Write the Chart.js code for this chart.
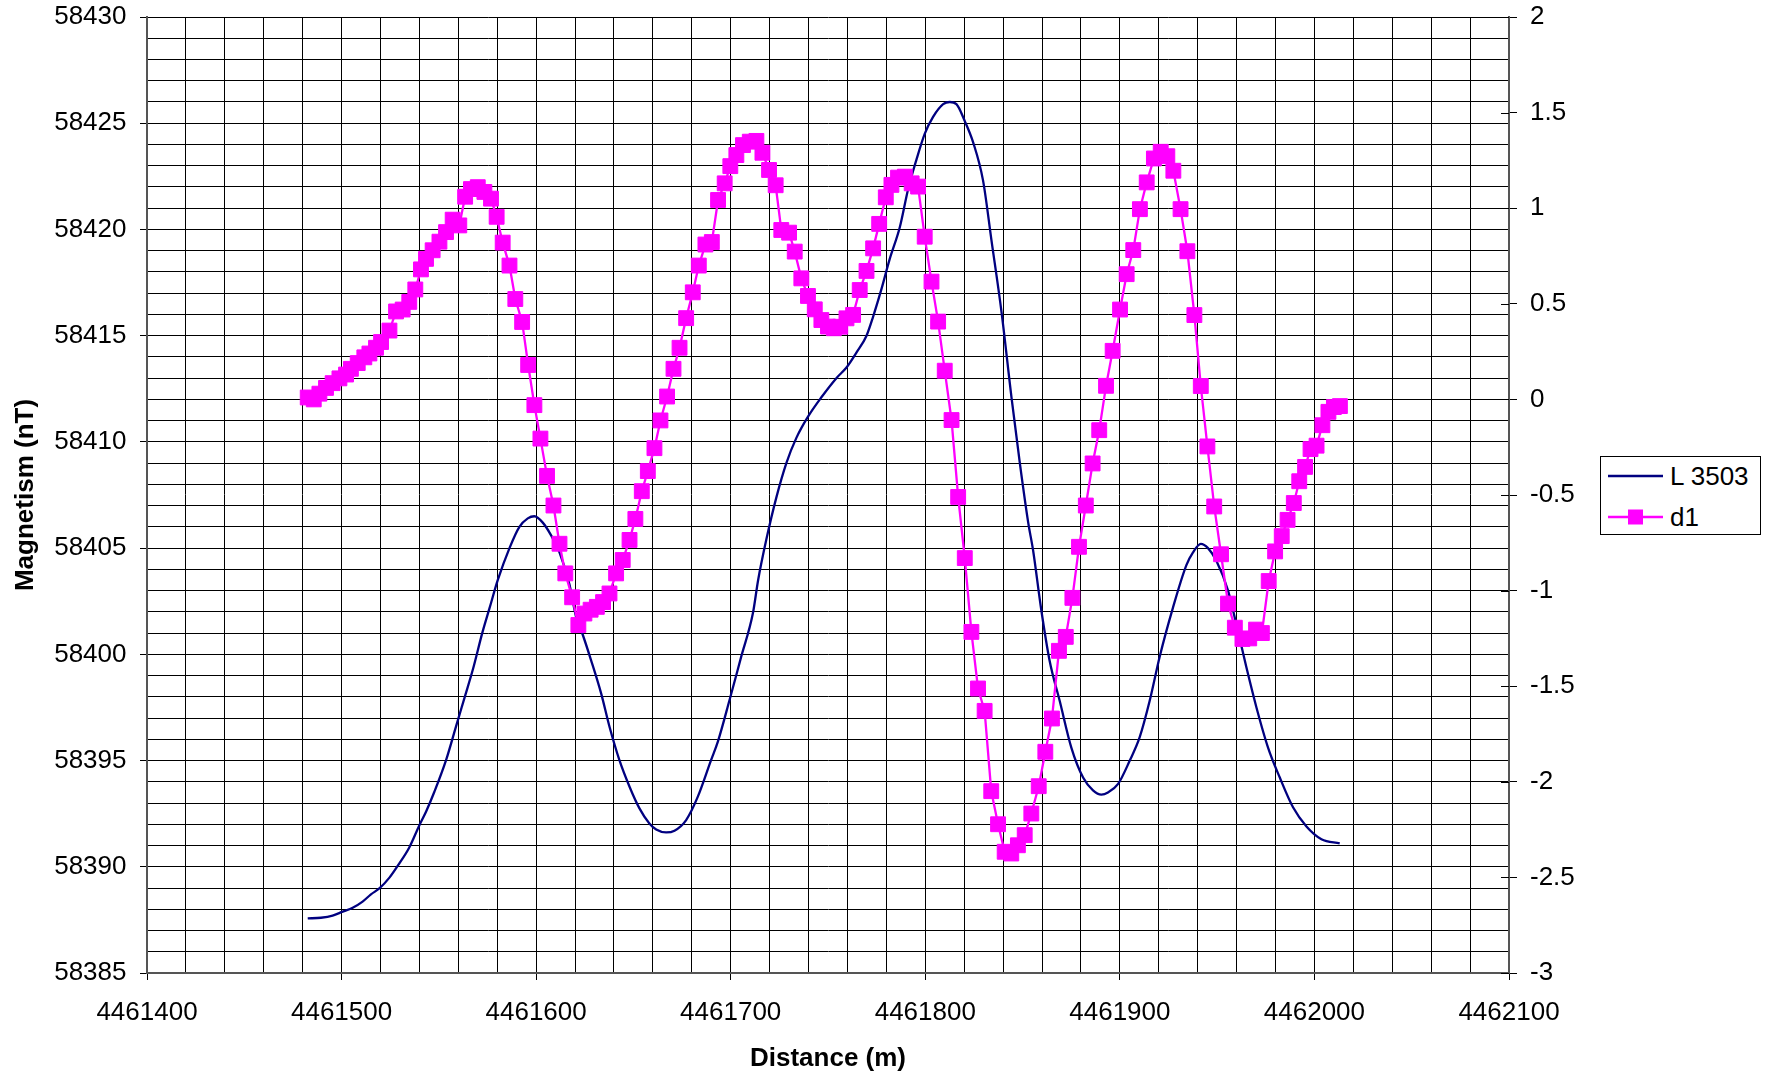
<!DOCTYPE html>
<html>
<head>
<meta charset="utf-8">
<script src="https://cdn.jsdelivr.net/npm/chart.js@4.4.1/dist/chart.umd.min.js"></script>
<style>
html,body{margin:0;padding:0;background:#fff;}
#wrap{position:relative;width:1775px;height:1076px;overflow:hidden;}
#c{position:absolute;left:0;top:0;}
#legend{position:absolute;left:1600px;top:456px;}
</style>
</head>
<body>
<div id="wrap">
<canvas id="c" width="1775" height="1076"></canvas>
<svg id="legend" width="162" height="80" xmlns="http://www.w3.org/2000/svg" font-family="'Liberation Sans', Arial, sans-serif" font-size="26">
  <rect x="0.5" y="0.5" width="160" height="78" fill="#fff" stroke="#000" stroke-width="1"/>
  <line x1="8" y1="20" x2="63" y2="20" stroke="#000080" stroke-width="2.3"/>
  <text x="70" y="29" fill="#000">L 3503</text>
  <line x1="8" y1="61" x2="63" y2="61" stroke="#FF00FF" stroke-width="2.3"/>
  <rect x="28" y="53.5" width="15" height="15" fill="#FF00FF"/>
  <text x="70" y="70" fill="#000">d1</text>
</svg>
</div>
<script>
// ---- data ----
const lineDistance = [4461482.6, 4461489.4, 4461495.4, 4461500.6, 4461505.7, 4461510.8, 4461515.1, 4461519.4, 4461524.6, 4461529.7,
  4461534.8, 4461540.0, 4461543.4, 4461547.7, 4461553.7, 4461558.8, 4461563.1, 4461567.4, 4461572.5, 4461576.0,
  4461580.3, 4461586.3, 4461591.4, 4461595.7, 4461599.1, 4461603.4, 4461607.7, 4461612.0, 4461617.1, 4461620.5,
  4461624.0, 4461628.2, 4461633.4, 4461637.7, 4461642.8, 4461648.0, 4461653.1, 4461658.2, 4461661.7, 4461666.8,
  4461671.1, 4461677.1, 4461683.1, 4461689.9, 4461693.4, 4461699.4, 4461705.4, 4461711.4, 4461714.1, 4461718.3,
  4461723.5, 4461728.6, 4461733.8, 4461739.8, 4461746.6, 4461754.3, 4461759.5, 4461764.6, 4461769.8, 4461773.2,
  4461777.5, 4461781.7, 4461786.9, 4461791.2, 4461795.5, 4461799.7, 4461804.0, 4461809.2, 4461812.6, 4461816.0,
  4461820.3, 4461824.6, 4461829.7, 4461834.0, 4461839.2, 4461844.3, 4461848.6, 4461852.9, 4461855.4, 4461859.6,
  4461863.9, 4461869.1, 4461875.1, 4461881.1, 4461886.2, 4461890.5, 4461893.9, 4461899.1, 4461905.1, 4461910.2,
  4461915.3, 4461920.5, 4461927.3, 4461934.2, 4461937.6, 4461941.6, 4461945.3, 4461949.6, 4461955.6, 4461959.9,
  4461965.0, 4461970.2, 4461976.2, 4461982.2, 4461989.0, 4461995.9, 4462003.6, 4462013.0];
const lineMag = [58387.57, 58387.60, 58387.70, 58387.89, 58388.07, 58388.36, 58388.70, 58388.98, 58389.49, 58390.16,
  58390.91, 58391.96, 58392.59, 58393.53, 58395.02, 58396.60, 58397.93, 58399.26, 58401.07, 58402.16,
  58403.50, 58405.00, 58406.00, 58406.40, 58406.50, 58406.20, 58405.60, 58404.80, 58403.30, 58401.77,
  58400.91, 58399.73, 58398.16, 58396.59, 58395.02, 58393.77, 58392.75, 58392.04, 58391.76, 58391.62,
  58391.70, 58392.20, 58393.30, 58395.02, 58395.89, 58397.85, 58399.89, 58401.93, 58403.50, 58405.40,
  58407.40, 58409.00, 58410.20, 58411.20, 58412.10, 58413.00, 58413.50, 58414.20, 58415.00, 58415.90,
  58417.20, 58418.60, 58420.10, 58421.90, 58423.30, 58424.50, 58425.30, 58425.90, 58426.00, 58425.90,
  58425.10, 58424.10, 58422.30, 58419.50, 58416.10, 58412.10, 58409.00, 58406.20, 58404.90, 58402.10,
  58399.70, 58397.80, 58395.60, 58394.20, 58393.60, 58393.40, 58393.50, 58393.90, 58395.00, 58396.10,
  58397.80, 58399.90, 58402.20, 58404.20, 58404.80, 58405.20, 58405.00, 58404.40, 58403.00, 58401.40,
  58399.40, 58397.50, 58395.60, 58394.20, 58392.80, 58391.90, 58391.30, 58391.10];

const d1Distance = [4461482.6, 4461485.7, 4461488.6, 4461492.0, 4461495.4, 4461498.9, 4461502.3, 4461504.8, 4461508.3, 4461511.7,
  4461514.3, 4461517.7, 4461520.3, 4461524.6, 4461528.0, 4461531.4, 4461534.8, 4461537.9, 4461540.8, 4461543.4,
  4461546.8, 4461550.3, 4461553.7, 4461557.1, 4461560.5, 4461563.5, 4461566.5, 4461570.0, 4461573.4, 4461576.8,
  4461579.7, 4461582.8, 4461586.3, 4461589.3, 4461592.8, 4461595.9, 4461599.1, 4461602.2, 4461605.6, 4461608.9,
  4461612.0, 4461615.0, 4461618.5, 4461621.7, 4461624.8, 4461628.0, 4461631.2, 4461634.4, 4461637.7, 4461641.1,
  4461644.5, 4461648.0, 4461651.0, 4461654.3, 4461657.4, 4461660.8, 4461663.9, 4461667.3, 4461670.6, 4461673.7,
  4461677.1, 4461680.5, 4461683.6, 4461687.0, 4461690.3, 4461693.5, 4461696.9, 4461699.8, 4461702.9, 4461706.3,
  4461709.8, 4461713.2, 4461716.3, 4461719.7, 4461723.1, 4461726.0, 4461730.0, 4461732.9, 4461736.3, 4461739.7,
  4461743.2, 4461746.6, 4461750.0, 4461753.0, 4461756.3, 4461759.5, 4461762.9, 4461766.3, 4461769.8, 4461773.2,
  4461776.3, 4461779.7, 4461782.6, 4461786.0, 4461789.5, 4461793.0, 4461796.3, 4461799.7, 4461803.2, 4461806.6,
  4461810.0, 4461813.5, 4461816.9, 4461820.3, 4461823.7, 4461827.1, 4461830.5, 4461833.9, 4461837.4, 4461840.8,
  4461844.2, 4461847.6, 4461851.1, 4461854.5, 4461858.3, 4461861.7, 4461865.1, 4461868.7, 4461872.2, 4461875.6,
  4461879.0, 4461882.5, 4461886.0, 4461889.4, 4461892.9, 4461896.3, 4461900.1, 4461903.5, 4461906.9, 4461910.3,
  4461913.8, 4461917.5, 4461921.0, 4461924.4, 4461927.5, 4461931.2, 4461934.7, 4461938.3, 4461941.6, 4461945.0,
  4461948.5, 4461952.0, 4461955.6, 4461959.1, 4461963.0, 4461966.5, 4461970.0, 4461973.0, 4461976.5, 4461979.8,
  4461983.2, 4461986.2, 4461989.4, 4461992.2, 4461995.2, 4461998.0, 4462001.1, 4462004.1, 4462007.2, 4462010.0,
  4462013.1];
const d1Value = [0.01, 0.00, 0.03, 0.06, 0.085, 0.11, 0.13, 0.16, 0.19, 0.22,
  0.24, 0.27, 0.30, 0.36, 0.46, 0.47, 0.51, 0.575, 0.68, 0.735,
  0.78, 0.825, 0.875, 0.94, 0.91, 1.06, 1.10, 1.11, 1.085, 1.05,
  0.955, 0.82, 0.70, 0.525, 0.405, 0.18, -0.03, -0.205, -0.40, -0.555,
  -0.755, -0.91, -1.035, -1.18, -1.12, -1.10, -1.085, -1.06, -1.015, -0.91,
  -0.84, -0.735, -0.625, -0.48, -0.375, -0.255, -0.11, 0.015, 0.16, 0.27,
  0.425, 0.56, 0.70, 0.81, 0.823, 1.043, 1.13, 1.22, 1.278, 1.33,
  1.348, 1.352, 1.29, 1.20, 1.12, 0.886, 0.872, 0.773, 0.633, 0.541,
  0.471, 0.415, 0.381, 0.372, 0.38, 0.424, 0.442, 0.572, 0.672, 0.79,
  0.918, 1.057, 1.122, 1.16, 1.165, 1.13, 1.113, 0.851, 0.616, 0.407,
  0.15, -0.108, -0.51, -0.83, -1.216, -1.512, -1.629, -2.049, -2.222, -2.366,
  -2.375, -2.332, -2.279, -2.166, -2.023, -1.843, -1.669, -1.315, -1.242, -1.038,
  -0.771, -0.555, -0.335, -0.161, 0.071, 0.254, 0.47, 0.655, 0.781, 0.995,
  1.135, 1.26, 1.295, 1.272, 1.196, 0.995, 0.775, 0.441, 0.07, -0.246,
  -0.56, -0.81, -1.068, -1.194, -1.253, -1.25, -1.204, -1.222, -0.95, -0.795,
  -0.715, -0.63, -0.542, -0.428, -0.353, -0.26, -0.242, -0.135, -0.065, -0.04,
  -0.035];

const xLabelValues = [4461400, 4461500, 4461600, 4461700, 4461800, 4461900, 4462000, 4462100];
const yLabelValues = [58385, 58390, 58395, 58400, 58405, 58410, 58415, 58420, 58425, 58430];
const y1LabelValues = [-3, -2.5, -2, -1.5, -1, -0.5, 0, 0.5, 1, 1.5, 2];
const seriesNames = ['L 3503', 'd1'];

// ---- chart ----
const FONT = "'Liberation Sans', Arial, Helvetica, sans-serif";
Chart.defaults.font.family = FONT;
Chart.defaults.font.size = 26;
Chart.defaults.color = '#000';

const lineData = lineDistance.map((x, i) => ({x: x, y: lineMag[i]}));
const d1Data = d1Distance.map((x, i) => ({x: x, y: d1Value[i]}));

const innerRightTicks = {
  id: 'innerRightTicks',
  beforeDatasetsDraw(chart) {
    const s = chart.scales.y1, ctx = chart.ctx, r = chart.chartArea.right;
    ctx.save();
    ctx.strokeStyle = '#000';
    ctx.lineWidth = 1;
    s.ticks.forEach(t => {
      const py = Math.round(s.getPixelForValue(t.value)) + 0.5;
      ctx.beginPath();
      ctx.moveTo(r - 8, py);
      ctx.lineTo(r, py);
      ctx.stroke();
    });
    ctx.restore();
  }
};

const hasVal = (arr, v) => arr.some(a => Math.abs(a - v) < 1e-6);

new Chart(document.getElementById('c'), {
  type: 'scatter',
  data: {
    datasets: [
      {
        label: seriesNames[0],
        data: lineData,
        yAxisID: 'y',
        showLine: true,
        borderColor: '#000080',
        backgroundColor: '#000080',
        borderWidth: 2.3,
        pointRadius: 0,
        cubicInterpolationMode: 'monotone',
        order: 1
      },
      {
        label: seriesNames[1],
        data: d1Data,
        yAxisID: 'y1',
        showLine: true,
        borderColor: '#FF00FF',
        backgroundColor: '#FF00FF',
        borderWidth: 2.3,
        pointStyle: 'rect',
        pointRadius: 10.5,
        pointBorderWidth: 1,
        pointBorderColor: '#FF00FF',
        pointBackgroundColor: '#FF00FF',
        tension: 0,
        order: 0
      }
    ]
  },
  options: {
    responsive: false,
    animation: false,
    devicePixelRatio: 1,
    layout: {padding: {top: 17, left: 0, right: 0, bottom: 0}},
    plugins: {legend: {display: false}, tooltip: {enabled: false}},
    scales: {
      x: {
        type: 'linear',
        position: 'bottom',
        min: 4461400,
        max: 4462100,
        afterFit: s => { s.height = 103; s.paddingLeft = 0; s.paddingRight = 0; },
        ticks: {
          stepSize: 20,
          autoSkip: false,
          maxRotation: 0,
          minRotation: 0,
          padding: 17,
          font: {size: 26},
          callback: v => hasVal(xLabelValues, v) ? String(Math.round(v)) : ''
        },
        grid: {
          color: '#000',
          lineWidth: 1,
          tickLength: 7,
          tickColor: ctx => (ctx.tick && hasVal(xLabelValues, ctx.tick.value)) ? '#000' : 'rgba(0,0,0,0)'
        },
        border: {display: true, color: '#555', width: 2},
        title: {display: true, text: 'Distance (m)', font: {size: 26, weight: 'bold'}, padding: {top: 0, bottom: 1.5}}
      },
      y: {
        type: 'linear',
        position: 'left',
        min: 58385,
        max: 58430,
        afterFit: s => { s.width = 147; s.paddingTop = 0; s.paddingBottom = 0; },
        ticks: {
          stepSize: 1,
          autoSkip: false,
          padding: 13.5,
          font: {size: 26},
          callback: v => hasVal(yLabelValues, v) ? String(v) : ''
        },
        grid: {
          color: '#000',
          lineWidth: 1,
          tickLength: 7,
          tickColor: ctx => (ctx.tick && hasVal(yLabelValues, ctx.tick.value)) ? '#000' : 'rgba(0,0,0,0)'
        },
        border: {display: true, color: '#555', width: 2},
        title: {display: true, text: 'Magnetism (nT)', font: {size: 26, weight: 'bold'}, padding: {top: 10, bottom: 0}}
      },
      y1: {
        type: 'linear',
        position: 'right',
        min: -3,
        max: 2,
        afterFit: s => { s.width = 266; s.paddingTop = 0; s.paddingBottom = 0; },
        ticks: {
          stepSize: 0.5,
          autoSkip: false,
          padding: 13,
          font: {size: 26},
          callback: v => hasVal(y1LabelValues, v) ? String(v) : ''
        },
        grid: {drawOnChartArea: false, tickLength: 8, tickColor: '#000', lineWidth: 1},
        border: {display: true, color: '#555', width: 2}
      }
    }
  },
  plugins: [innerRightTicks]
});
</script>
</body>
</html>
